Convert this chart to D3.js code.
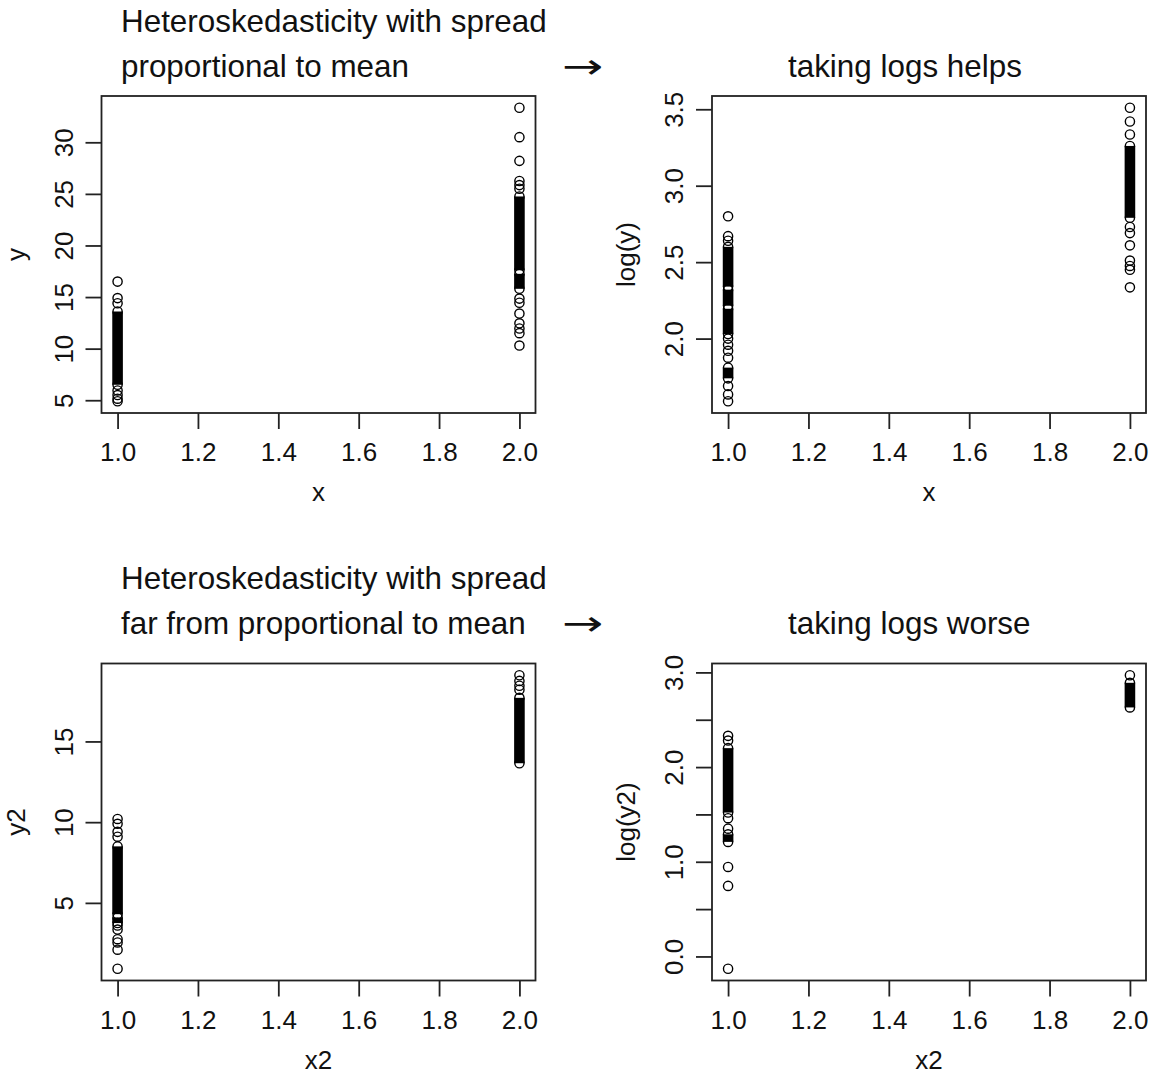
<!DOCTYPE html>
<html>
<head>
<meta charset="utf-8">
<script src="https://cdn.jsdelivr.net/npm/d3@7"></script>
<style>
  body { margin: 0; background: #fff; }
  text { font-family: "Liberation Sans", Arial, sans-serif; fill: #111; }
</style>
</head>
<body>
<div id="chart"></div>
<script>
// x groups and tick values
const groups = [1, 2];
const xTicks = [1.0, 1.2, 1.4, 1.6, 1.8, 2.0];

// panel 1: y vs x  (single circles + dense runs [lo, hi] per group)
const y1Single = [[16.5, 14.9, 14.4, 5.95, 5.5, 5.15, 4.9],
                  [33.35, 30.5, 28.2, 26.25, 25.85, 25.5, 14.85, 14.45, 13.4, 12.45, 11.95, 11.5, 10.3]];
const y1Dense = [[[6.5, 13.6]], [[15.8, 17.25], [17.6, 24.75]]];
const y1Ticks = [5, 10, 15, 20, 25, 30];

// panel 2: log(y) vs x
const y2Single = [[2.80, 2.67, 2.64, 2.0, 1.96, 1.92, 1.875, 1.69, 1.635, 1.59],
                  [3.51, 3.42, 3.335, 2.73, 2.69, 2.61, 2.51, 2.475, 2.45, 2.335]];
const y2Dense = [[[2.03, 2.195], [2.215, 2.32], [2.34, 2.6], [1.74, 1.81]], [[2.79, 3.26]]];
const y2Ticks = [2.0, 2.5, 3.0, 3.5];

// panel 3: y2 vs x2
const y3Single = [[10.2, 9.9, 9.4, 9.1, 3.6, 3.35, 2.75, 2.55, 2.1, 0.92],
                  [19.1, 18.75, 18.45, 18.2]];
const y3Dense = [[[4.3, 8.5], [3.75, 4.1]], [[13.65, 17.7]]];
const y3Ticks = [5, 10, 15];

// panel 4: log(y2) vs x2
const y4Single = [[2.33, 2.28, 1.46, 1.35, 0.945, 0.745, -0.13], [2.97]];
const y4Dense = [[[1.52, 2.2], [1.21, 1.29]], [[2.63, 2.89]]];
const y4Ticks = [0, 0.5, 1.0, 1.5, 2.0, 2.5, 3.0];
const y4Labelled = [0, 1, 2, 3];

const leftTitle1 = ["Heteroskedasticity with spread", "proportional to mean"];
const leftTitle2 = ["Heteroskedasticity with spread", "far from proportional to mean"];
const rightTitles = ["taking logs helps", "taking logs worse"];
const xLabels = ["x", "x", "x2", "x2"];
const yLabels = ["y", "log(y)", "y2", "log(y2)"];

const boxW = 434, boxH = 317;
const r = 4.6, sw = 1.4;

const svg = d3.select('#chart').append('svg')
    .attr('width', 1154)
    .attr('height', 1086);

const panels = [
  {left: 101.5, top: 96,  single: y1Single, dense: y1Dense, ticks: y1Ticks},
  {left: 712,   top: 96,  single: y2Single, dense: y2Dense, ticks: y2Ticks},
  {left: 101.5, top: 663.5, single: y3Single, dense: y3Dense, ticks: y3Ticks},
  {left: 712,   top: 663.5, single: y4Single, dense: y4Dense, ticks: y4Ticks, labelled: y4Labelled}
];

// R style range: data extent padded by 4% each side
function padded(vals) {
  const [lo, hi] = d3.extent(vals);
  const pad = (hi - lo) * 0.04;
  return [lo - pad, hi + pad];
}

panels.forEach((p, i) => {
  const allY = p.single.flat().concat(p.dense.flat(2));
  const x = d3.scaleLinear().domain(padded(groups)).range([0, boxW]);
  const y = d3.scaleLinear().domain(padded(allY)).range([boxH, 0]);

  const g = svg.append('g').attr('transform', `translate(${p.left},${p.top})`);

  // x axis
  g.append('g')
      .attr('transform', `translate(0,${boxH})`)
      .call(d3.axisBottom(x).tickValues(xTicks).tickSize(16).tickFormat(d3.format('.1f')))
      .call(a => a.select('.domain').remove())
      .call(a => a.selectAll('line').attr('stroke', '#222').attr('stroke-width', 1.8))
      .call(a => a.selectAll('text').attr('y', 48).attr('dy', null)
          .style('font-size', '26px').style('fill', '#111'));

  // y axis, labels parallel to the axis
  const fmt = p.labelled
      ? (d => p.labelled.includes(d) ? d3.format('.1f')(d) : '')
      : (Number.isInteger(p.ticks[1]) ? d3.format('d') : d3.format('.1f'));
  g.append('g')
      .call(d3.axisLeft(y).tickValues(p.ticks).tickSize(16).tickFormat(fmt))
      .call(a => a.select('.domain').remove())
      .call(a => a.selectAll('line').attr('stroke', '#222').attr('stroke-width', 1.8))
      .call(a => a.selectAll('text')
          .attr('transform', 'rotate(-90)')
          .attr('x', 0).attr('y', -29).attr('dy', null)
          .attr('text-anchor', 'middle')
          .style('font-size', '26px').style('fill', '#111'));

  // frame
  g.append('rect')
      .attr('width', boxW).attr('height', boxH)
      .attr('fill', 'none').attr('stroke', '#222').attr('stroke-width', 1.8);

  // dense runs of overplotted circles
  groups.forEach((gx, k) => {
    p.dense[k].forEach(run => {
      g.append('rect')
          .attr('x', x(gx) - r - sw / 2)
          .attr('y', y(run[1]))
          .attr('width', 2 * r + sw)
          .attr('height', y(run[0]) - y(run[1]))
          .attr('fill', '#000');
    });
    const pts = p.single[k].concat(p.dense[k].flat());
    g.selectAll(null)
        .data(pts)
        .enter().append('circle')
        .attr('cx', x(gx))
        .attr('cy', d => y(d))
        .attr('r', r)
        .attr('fill', 'none')
        .attr('stroke', '#000')
        .attr('stroke-width', sw);
  });

  // axis titles
  g.append('text')
      .attr('x', boxW / 2).attr('y', boxH + 88)
      .attr('text-anchor', 'middle')
      .style('font-size', '26px')
      .text(xLabels[i]);
  g.append('text')
      .attr('transform', 'rotate(-90)')
      .attr('x', -boxH / 2).attr('y', -77)
      .attr('text-anchor', 'middle')
      .style('font-size', '26px')
      .text(yLabels[i]);
});

// titles
const rowBase = [32, 589];
[leftTitle1, leftTitle2].forEach((lines, j) => {
  lines.forEach((t, l) => {
    svg.append('text')
        .attr('x', 121).attr('y', rowBase[j] + l * 45)
        .style('font-size', '31.4px')
        .text(t);
  });
  svg.append('text')
      .attr('transform', `translate(562,${rowBase[j] + 45 + 1}) scale(1.45,1)`)
      .style('font-family', '"DejaVu Sans", sans-serif')
      .style('font-size', '34px')
      .text('\u2192');
  svg.append('text')
      .attr('x', 788).attr('y', rowBase[j] + 45)
      .style('font-size', '31.4px')
      .text(rightTitles[j]);
});
</script>
</body>
</html>
